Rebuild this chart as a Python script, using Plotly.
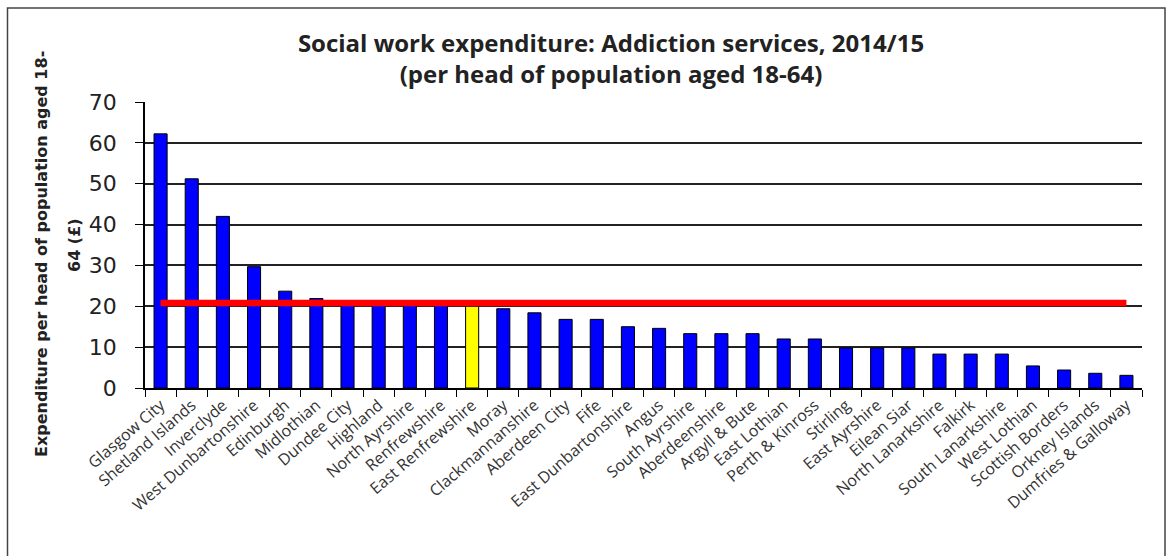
import plotly.graph_objects as go

councils = [
    "Glasgow City", "Shetland Islands", "Inverclyde", "West Dunbartonshire",
    "Edinburgh", "Midlothian", "Dundee City", "Highland", "North Ayrshire",
    "Renfrewshire", "East Renfrewshire", "Moray", "Clackmannanshire",
    "Aberdeen City", "Fife", "East Dunbartonshire", "Angus", "South Ayrshire",
    "Aberdeenshire", "Argyll & Bute", "East Lothian", "Perth & Kinross",
    "Stirling", "East Ayrshire", "Eilean Siar", "North Lanarkshire", "Falkirk",
    "South Lanarkshire", "West Lothian", "Scottish Borders", "Orkney Islands",
    "Dumfries & Galloway",
]
spend = [
    62.2, 51.2, 42.0, 29.7, 23.7, 21.9, 20.8, 20.6, 20.4, 20.2,
    20.0, 19.4, 18.4, 16.8, 16.8, 15.0, 14.6, 13.3, 13.3, 13.3,
    12.0, 12.0, 9.8, 9.8, 9.8, 8.3, 8.3, 8.3, 5.4, 4.4, 3.6, 3.1,
]
highlight = "East Renfrewshire"
scotland_average = 20.8
y_ticks = [0, 10, 20, 30, 40, 50, 60, 70]
title_lines = ["Social work expenditure: Addiction services, 2014/15",
               "(per head of population aged 18-64)"]
ytitle_lines = ["Expenditure per head of population aged 18-", "64 (£)"]

bar_colors = ["#FFFF00" if c == highlight else "#0000FF" for c in councils]

W, H = 1171, 556
L, R, T, B = 145, 29, 102, 168
pw, ph = W - L - R, H - T - B


def px_x(p):
    return (p - L) / pw


def px_y(p):
    return 1 - (p - T) / ph


fig = go.Figure()
fig.add_trace(go.Bar(
    x=councils, y=spend,
    marker=dict(color=bar_colors, line=dict(color="#000000", width=1)),
    showlegend=False, hoverinfo="x+y",
))
fig.add_trace(go.Scatter(
    x=councils, y=[scotland_average] * len(councils),
    mode="lines", line=dict(color="#FF0000", width=6.5),
    showlegend=False, hoverinfo="skip",
))

ytitle_font = dict(family="DejaVu Sans", size=16, color="#222222")
annotations = [
    dict(text="<b>" + ytitle_lines[0] + "</b>", textangle=-90,
         xref="paper", yref="paper", x=px_x(41), y=px_y(254),
         xanchor="center", yanchor="middle", showarrow=False, font=ytitle_font),
    dict(text="<b>" + ytitle_lines[1] + "</b>", textangle=-90,
         xref="paper", yref="paper", x=px_x(74), y=px_y(245),
         xanchor="center", yanchor="middle", showarrow=False, font=ytitle_font),
]

fig.update_layout(
    width=W, height=H,
    margin=dict(l=L, r=R, t=T, b=B, pad=0),
    paper_bgcolor="white", plot_bgcolor="white",
    bargap=0.58,
    font=dict(family="'Open Sans', sans-serif", color="#222222"),
    title=dict(
        text="<b>" + "<br>".join(title_lines) + "</b>",
        x=611 / W, xanchor="center", y=1 - 52 / H, yanchor="middle",
        font=dict(family="Open Sans", size=24, color="#222222"),
    ),
    xaxis=dict(
        type="category", tickangle=-41,
        ticks="outside", tickson="boundaries", ticklen=7, tickwidth=1.3, tickcolor="#000",
        showline=True, linecolor="#000", linewidth=1.5,
        showgrid=False, tickfont=dict(family="Open Sans", size=16, color="#333333"),
        range=[-0.5, len(councils) - 0.5],
    ),
    yaxis=dict(
        range=[0, 70], tickvals=y_ticks, ticks="outside", ticklen=8,
        tickwidth=1.3, tickcolor="#000", ticklabelstandoff=14,
        showline=True, linecolor="#000", linewidth=1.5,
        showgrid=True, gridcolor="#222222", gridwidth=1.5,
        zeroline=False, tickfont=dict(family="DejaVu Sans", size=22, color="#222222"),
    ),
    annotations=annotations,
    shapes=[dict(
        type="rect", xref="paper", yref="paper",
        x0=px_x(7.5), x1=px_x(1165), y0=px_y(600), y1=px_y(8),
        line=dict(color="#444444", width=1.5), fillcolor="rgba(0,0,0,0)", layer="below",
    )],
)

fig.write_html(
    "out.html",
    config={"displayModeBar": False},
    post_script="document.body.style.margin='0';document.body.style.overflow='hidden';",
)
